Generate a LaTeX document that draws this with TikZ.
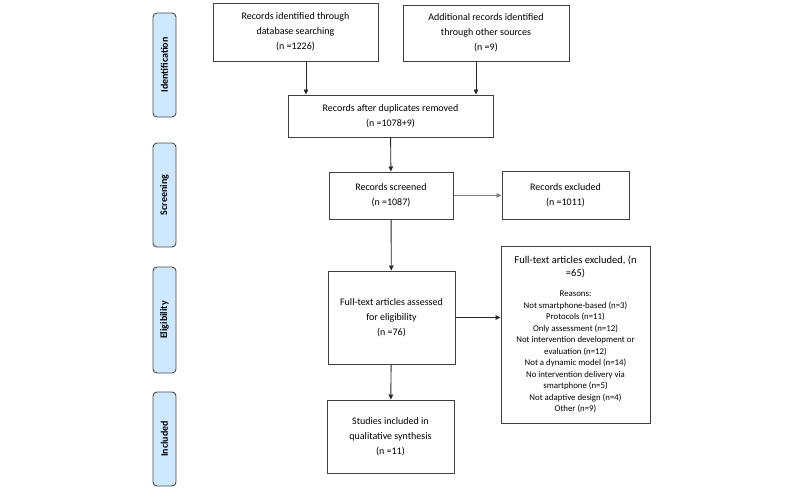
\documentclass[tikz,border=0pt]{standalone}
\usepackage{fontspec}
\setmainfont{Carlito}
\usetikzlibrary{positioning, arrows.meta}
\definecolor{phaseblue}{RGB}{206,232,255}

\begin{document}
\begin{tikzpicture}[x=1pt, y=-1pt,
    box/.style={draw=black!75, line width=1pt, rectangle, align=flush center, inner sep=0pt, font=\fontsize{10}{15}\selectfont},
    phase/.style={draw=black!70, line width=0.9pt, fill=phaseblue, rounded corners=4pt, rotate=90, inner sep=0pt, minimum height=23pt, font=\bfseries\fontsize{10}{12}\selectfont},
    flow/.style={-{Triangle[length=5pt, width=4.5pt]}, line width=0.9pt, black!85}]
    \useasboundingbox (0, 0) rectangle (800, 498);

    % phase labels on the left
    \node (identification) [phase, minimum width=104pt] at (164.5, 65) {Identification};
    \node (screening) [phase, minimum width=104pt] at (164.5, 195) {Screening};
    \node (eligibility) [phase, minimum width=106pt] at (164.5, 320) {Eligibility};
    \node (included) [phase, minimum width=94pt] at (164.5, 439) {Included};

    % flow boxes
    \node (db) [box, minimum width=165pt, minimum height=58pt] at (295.5, 32) {Records identified through\\database searching\\(n =1226)};
    \node (other) [box, minimum width=166pt, minimum height=56pt] at (486, 33) {Additional records identified\\through other sources\\(n =9)};
    \node (dup) [box, minimum width=205pt, minimum height=42pt] at (390.5, 116) {Records after duplicates removed\\(n =1078+9)};
    \node (screened) [box, minimum width=124pt, minimum height=47pt] at (391, 195.5) {Records screened\\(n =1087)};
    \node (excl) [box, minimum width=127pt, minimum height=48pt, right=48pt of screened] {Records excluded\\(n =1011)};
    \node (fulltext) [box, minimum width=127pt, minimum height=93pt] at (391.5, 317.5) {Full-text articles assessed\\for eligibility\\(n =76)};
    \node (ftexcl) [box, minimum width=149pt, minimum height=177pt, text width=147pt] at (575.5, 334.5) {{\fontsize{10.5}{13}\selectfont Full-text articles excluded, (n\\=65)\par}\vspace{8.5pt}{\fontsize{8.8}{11.5}\selectfont Reasons:\\Not smartphone-based (n=3)\\Protocols (n=11)\\Only assessment (n=12)\\Not intervention development or\\evaluation (n=12)\\Not a dynamic model (n=14)\\No intervention delivery via\\smartphone (n=5)\\Not adaptive design (n=4)\\Other (n=9)\par}};
    \node (studies) [box, minimum width=127pt, minimum height=73pt] at (390.5, 436.5) {Studies included in\\qualitative synthesis\\(n =11)};

    % connectors
    \coordinate (dbout) at ([xshift=10.5pt]db.south);
    \coordinate (otherout) at ([xshift=-10pt]other.south);
    \draw [flow] (dbout) -- (dbout |- dup.north);
    \draw [flow] (otherout) -- (otherout |- dup.north);
    \draw [flow] (dup) -- (screened);
    \draw [flow, black!50] (screened) -- (excl);
    \draw [flow] (screened) -- (fulltext);
    \draw [flow] (fulltext.east) -- (fulltext.east -| ftexcl.west);
    \draw [flow] (fulltext) -- (studies);
\end{tikzpicture}
\end{document}
